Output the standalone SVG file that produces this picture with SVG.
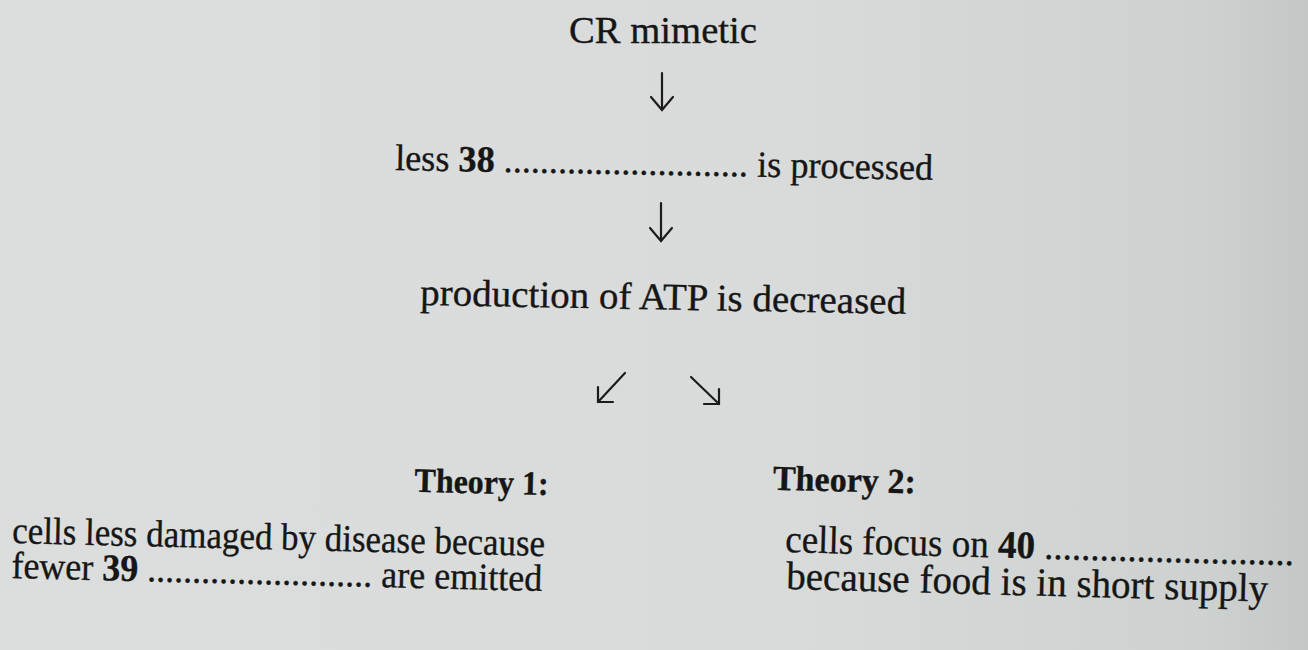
<svg xmlns="http://www.w3.org/2000/svg" width="1308" height="650" viewBox="0 0 1308 650">
  <defs>
    <linearGradient id="bg" x1="0" y1="0" x2="1" y2="0">
      <stop offset="0" stop-color="#dcdedd"/>
      <stop offset="0.6" stop-color="#d8dbda"/>
      <stop offset="0.92" stop-color="#cdd1d0"/>
      <stop offset="1" stop-color="#c3c7c6"/>
    </linearGradient>
    <style>
      .t { font-family: "Liberation Serif", "Times New Roman", serif; fill: #161616; stroke: #161616; stroke-width: 0.35; }
      .b { font-weight: bold; }
      .arr { fill: none; stroke: #1c1c1c; stroke-width: 2.2; stroke-linecap: round; stroke-linejoin: miter; }
    </style>
  </defs>
  <rect x="0" y="0" width="1308" height="650" fill="url(#bg)"/>

  <g id="node-cr-mimetic">
    <text class="t" x="569" y="43" font-size="37" textLength="188" lengthAdjust="spacingAndGlyphs">CR mimetic</text>
  </g>

  <g id="node-less-38" transform="rotate(1.05 395 170)">
    <text class="t" x="395" y="170" font-size="37" textLength="538" lengthAdjust="spacingAndGlyphs">less <tspan class="b">38</tspan> ........................... is processed</text>
  </g>

  <g id="node-atp" transform="rotate(1.05 420 305)">
    <text class="t" x="420" y="305" font-size="38" textLength="486" lengthAdjust="spacingAndGlyphs">production of ATP is decreased</text>
  </g>

  <g id="node-theory1" transform="rotate(1.4 12 543)">
    <text class="t b" x="413" y="482" font-size="34" textLength="134" lengthAdjust="spacingAndGlyphs">Theory 1:</text>
    <text class="t" x="12" y="543" font-size="38" textLength="533" lengthAdjust="spacingAndGlyphs">cells less damaged by disease because</text>
    <text class="t" x="12" y="578" font-size="38" textLength="531" lengthAdjust="spacingAndGlyphs">fewer <tspan class="b">39</tspan> ......................... are emitted</text>
  </g>

  <g id="node-theory2" transform="rotate(1.5 785 552)">
    <text class="t b" x="771" y="490" font-size="35" textLength="143" lengthAdjust="spacingAndGlyphs">Theory 2:</text>
    <text class="t" x="785" y="552" font-size="39" textLength="509" lengthAdjust="spacingAndGlyphs">cells focus on <tspan class="b">40</tspan> ...........................</text>
    <text class="t" x="787" y="589" font-size="40" textLength="482" lengthAdjust="spacingAndGlyphs">because food is in short supply</text>
  </g>

  <g id="connectors">
    <path class="arr" d="M662 73 L662 109 M651 97 L662 110 L673 97"/>
    <path class="arr" d="M661 203 L661 240 M650 228 L661 241 L672 228"/>
    <path class="arr" d="M625 373 L598 402 M598 387 L598 402 L613 402"/>
    <path class="arr" d="M691 377 L719 404 M704 404 L719 404 L719 389"/>
  </g>
</svg>
